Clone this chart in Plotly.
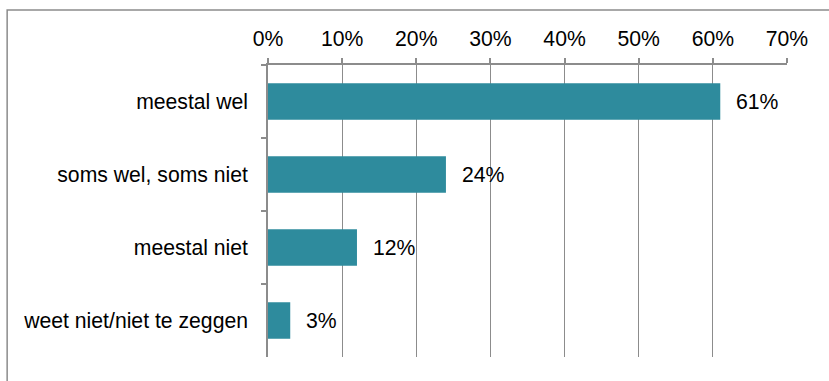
import plotly.graph_objects as go

# Survey answers and their shares (percent)
categories = ["meestal wel", "soms wel, soms niet", "meestal niet", "weet niet/niet te zeggen"]
shares = [61, 24, 12, 3]
share_labels = ["61%", "24%", "12%", "3%"]
tick_values = [0, 10, 20, 30, 40, 50, 60, 70]
tick_labels = ["0%", "10%", "20%", "30%", "40%", "50%", "60%", "70%"]

BAR_COLOR = "#2E8B9D"
GRID_COLOR = "#8C8C8C"
TEXT_FONT = dict(family="Liberation Sans, Arial, sans-serif", size=21.2, color="#000000")

fig = go.Figure(
    go.Bar(
        x=shares,
        y=categories,
        orientation="h",
        marker=dict(color=BAR_COLOR, line=dict(width=0)),
        hoverinfo="skip",
    )
)

# Value labels to the right of each bar
for cat, val, lab in zip(categories, shares, share_labels):
    fig.add_annotation(
        x=val, y=cat, text=lab, showarrow=False,
        xanchor="left", yanchor="middle", xshift=14,
        font=TEXT_FONT,
    )

# Chart frame
fig.add_shape(
    type="rect", xref="paper", yref="paper",
    x0=-0.5026, x1=1.3, y0=-0.3, y1=1.188,
    line=dict(color=GRID_COLOR, width=1.5), fillcolor="rgba(0,0,0,0)",
    layer="below",
)

fig.update_layout(
    width=829, height=381,
    margin=dict(l=268, r=42, t=65, b=24),
    paper_bgcolor="white", plot_bgcolor="white",
    bargap=0.5,
    showlegend=False,
    font=TEXT_FONT,
    xaxis=dict(
        side="top", range=[0, 70],
        tickmode="array", tickvals=tick_values, ticktext=tick_labels,
        showgrid=True, gridcolor=GRID_COLOR, gridwidth=1.3,
        showline=True, linecolor=GRID_COLOR, linewidth=1.5,
        ticks="outside", ticklen=5, tickcolor=GRID_COLOR, tickwidth=1.5,
        zeroline=False, tickfont=TEXT_FONT, fixedrange=True,
        ticklabelstandoff=4,
    ),
    yaxis=dict(
        autorange="reversed",
        categoryorder="array", categoryarray=categories,
        showline=True, linecolor=GRID_COLOR, linewidth=1.5,
        ticks="outside", tickson="boundaries", ticklen=5,
        tickcolor=GRID_COLOR, tickwidth=1.5,
        showgrid=False, zeroline=False,
        ticklabelstandoff=14, tickfont=TEXT_FONT, fixedrange=True,
    ),
)

fig.write_html("out.html")
